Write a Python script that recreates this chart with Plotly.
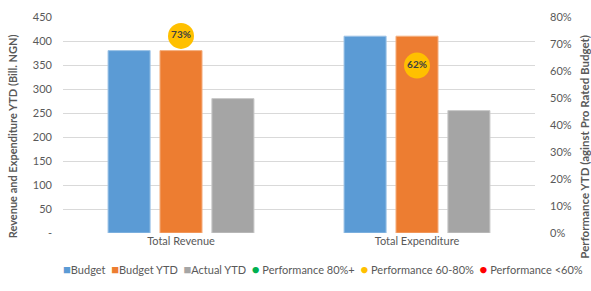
import plotly.graph_objects as go

categories = ["Total Revenue", "Total Expenditure"]
budget = [380, 410]
budget_ytd = [380, 410]
actual_ytd = [280, 255]
performance = [0.73, 0.62]
perf_labels = ["73%", "62%"]
left_tickvals = [0, 50, 100, 150, 200, 250, 300, 350, 400, 450]
left_ticktext = ["-", "50", "100", "150", "200", "250", "300", "350", "400", "450"]
right_tickvals = [0, 0.1, 0.2, 0.3, 0.4, 0.5, 0.6, 0.7, 0.8]
right_ticktext = ["0%", "10%", "20%", "30%", "40%", "50%", "60%", "70%", "80%"]

def band(p):
    if p >= 0.8:
        return "green"
    if p >= 0.6:
        return "yellow"
    return "red"

grey = "#595959"
FONT = "Lato"

fig = go.Figure()
bar_series = [("Budget", budget, "#5B9BD5", "#9DC3E6", "a"),
              ("Budget YTD", budget_ytd, "#ED7D31", "#F4B183", "b"),
              ("Actual YTD", actual_ytd, "#A5A5A5", "#C9C9C9", "c")]
for name, vals, col, lcol, og in bar_series:
    fig.add_trace(go.Bar(name=name, x=categories, y=vals, offsetgroup=og, showlegend=False,
                         hoverinfo="skip",
                         marker=dict(color=col, line=dict(color=lcol, width=1))))

bands = [("green", "Performance 80%+", "#00B050"), ("yellow", "Performance 60-80%", "#FFC000"), ("red", "Performance <60%", "#FF0000")]
for key, name, col in bands:
    ys = [p if band(p) == key else None for p in performance]
    txt = [t if band(p) == key else "" for p, t in zip(performance, perf_labels)]
    fig.add_trace(go.Scatter(name=name, x=categories, y=ys, yaxis="y2", mode="markers+text",
                             text=txt, textposition="middle center", hoverinfo="skip",
                             textfont=dict(family=FONT, size=10, color="#404040", weight="bold"),
                             marker=dict(color=col, size=26), showlegend=False,
                             offsetgroup="b", cliponaxis=False))

# legend drawn as one line of text
legend_parts = []
for name, vals, col, lcol, og in bar_series:
    legend_parts.append(f'<span style="color:{col};font-size:13px">■</span>{name}')
for key, name, col in bands:
    legend_parts.append(f'<span style="color:{col};font-size:13px">●</span> {name}')
legend_text = "  ".join(legend_parts)

fig.add_annotation(text=legend_text, xref="paper", yref="paper", x=0.551, y=-0.166,
                   xanchor="center", yanchor="middle", showarrow=False,
                   font=dict(family=FONT, size=11, color=grey))
fig.add_annotation(text="<b>Revenue and Expenditure YTD (Bill. NGN)</b>", xref="paper", yref="paper",
                   x=-0.108, y=0.448, xanchor="center", yanchor="middle", textangle=-90, showarrow=False,
                   font=dict(family=FONT, size=11, color=grey))
fig.add_annotation(text="<b>Performance YTD (aginst Pro Rated Budget)</b>", xref="paper", yref="paper",
                   x=1.106, y=0.40, xanchor="center", yanchor="middle", textangle=-90, showarrow=False,
                   font=dict(family=FONT, size=11.5, color=grey))

fig.update_layout(
    width=591, height=291,
    margin=dict(l=63, r=56, t=10, b=58),
    paper_bgcolor="white", plot_bgcolor="white",
    font=dict(family=FONT, size=11, color=grey),
    showlegend=False, hovermode=False,
    barmode="group", bargap=0.34, bargroupgap=0.19,
    scattermode="group", scattergap=0.34,
    xaxis=dict(showgrid=False, ticks="", showline=False, tickangle=0, tickfont=dict(size=11, color=grey)),
    yaxis=dict(range=[0, 450], tickvals=left_tickvals, ticktext=left_ticktext, showgrid=True,
               gridcolor="#D9D9D9", gridwidth=1, zeroline=False, ticklabelstandoff=10),
    yaxis2=dict(range=[0, 0.8], overlaying="y", side="right", tickvals=right_tickvals, ticktext=right_ticktext,
                showgrid=False, zeroline=False, ticklabelstandoff=14),
)
fig.write_html("out.html", config={"displayModeBar": False},
               post_script="document.body.style.margin='0px';")
